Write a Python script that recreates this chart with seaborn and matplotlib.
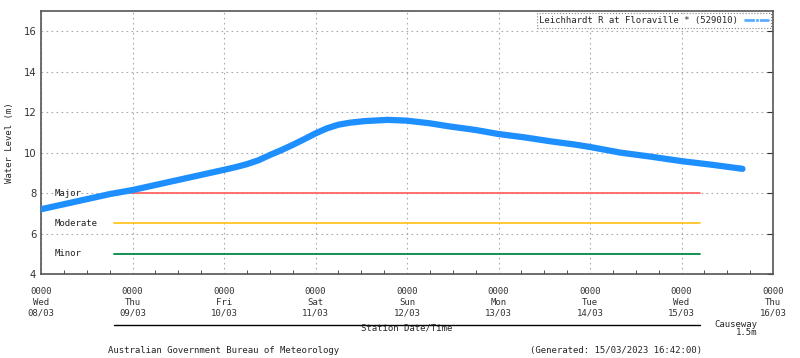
import matplotlib
matplotlib.use("Agg")
import matplotlib.pyplot as plt
import seaborn as sns
import pandas as pd

# water level readings (hours since Wed 08/03 00:00, metres)
hours = [0, 6, 12, 18, 24, 30, 36, 42, 48, 51, 54, 57, 60, 63, 66, 69, 72, 75,
         78, 81, 85, 91, 96, 102, 107, 114, 120, 127, 134, 140, 144, 152, 160,
         168, 176, 184]
level = [7.2, 7.45, 7.7, 7.95, 8.15, 8.4, 8.65, 8.9, 9.15, 9.28, 9.43, 9.62, 9.88,
         10.12, 10.38, 10.66, 10.95, 11.2, 11.38, 11.48, 11.56, 11.62, 11.58, 11.45,
         11.3, 11.12, 10.92, 10.75, 10.55, 10.4, 10.28, 10.0, 9.8, 9.58, 9.4, 9.2]

# flood classification levels
flood_names = ["Major", "Moderate", "Minor"]
flood_levels = [8.0, 6.5, 5.0]
flood_colors = ["#ff6666", "#ffc423", "#008a44"]
flood_start, flood_end = 19.2, 172.9

day_labels = ["0000\nWed\n08/03", "0000\nThu\n09/03", "0000\nFri\n10/03",
              "0000\nSat\n11/03", "0000\nSun\n12/03", "0000\nMon\n13/03",
              "0000\nTue\n14/03", "0000\nWed\n15/03", "0000\nThu\n16/03"]

df = pd.DataFrame({"hours": hours, "level": level})

sns.set_style("white")
mono = "DejaVu Sans Mono"
fs = 6.5
plt.rcParams["font.family"] = ["DejaVu Sans"]

fig = plt.figure(figsize=(8, 3.58), dpi=100)
ax = fig.add_axes([0.05125, 0.2346, 0.9150, 0.7346])

for name, lv, col in zip(flood_names, flood_levels, flood_colors):
    ax.plot([flood_start, flood_end], [lv, lv], color=col, lw=1.3, zorder=2)
    ax.text(3.7, lv, name, fontsize=fs, family=mono, va="center", ha="left",
            color="#222222", zorder=3)

sns.lineplot(data=df, x="hours", y="level", ax=ax, color="#1e8fff", lw=4.5,
             label="Leichhardt R at Floraville * (529010)", zorder=4)

ax.set_xlim(0, 192)
ax.set_ylim(4, 17)
ax.set_xticks(range(0, 193, 24))
ax.set_xticks(range(0, 193, 6), minor=True)
ax.set_xticklabels(day_labels, family=mono, fontsize=fs, linespacing=1.3)
ax.set_yticks(range(4, 17, 2))
ax.tick_params(axis="y", labelsize=7.2, direction="in", right=True, length=4, colors="#333333")
ax.tick_params(axis="x", which="major", direction="in", length=5, pad=9, colors="#333333")
ax.tick_params(axis="x", which="minor", direction="in", length=3, bottom=True, color="#333333")
ax.grid(True, which="major", linestyle=(0, (1.5, 3)), color="#aaaaaa", lw=0.8)
ax.set_xlabel("")
ax.set_ylabel("Water Level (m)", family=mono, fontsize=fs, labelpad=7)
for sp in ax.spines.values():
    sp.set_color("#555555")
    sp.set_linewidth(1.2)

leg = ax.legend(loc="upper right", markerfirst=False, fancybox=False,
                prop={"family": mono, "size": fs}, borderpad=0.3,
                handlelength=2.5, borderaxespad=0.25)
leg.get_frame().set_linestyle(":")
leg.get_frame().set_edgecolor("#666666")
leg.get_frame().set_linewidth(0.8)
hl = leg.get_lines()[0]
hl.set_linewidth(2)
hl.set_color("#5aaeff")
hl.set_marker(".")
hl.set_markevery([1])

# axis caption line below the date labels
ax.plot([flood_start, flood_end], [-0.195, -0.195], color="black", lw=1,
        transform=ax.get_xaxis_transform(), clip_on=False)
fig.text(0.508, 0.085, "Station Date/Time", family=mono, fontsize=fs, ha="center", va="center")
fig.text(0.947, 0.083, "Causeway\n1.5m", family=mono, fontsize=fs, ha="right", va="center",
         multialignment="right", linespacing=0.85)
fig.text(0.28, 0.022, "Australian Government Bureau of Meteorology", family=mono,
         fontsize=fs, ha="center", va="center")
fig.text(0.77, 0.022, "(Generated: 15/03/2023 16:42:00)", family=mono,
         fontsize=fs, ha="center", va="center")

fig.savefig("out.png", dpi=100)
